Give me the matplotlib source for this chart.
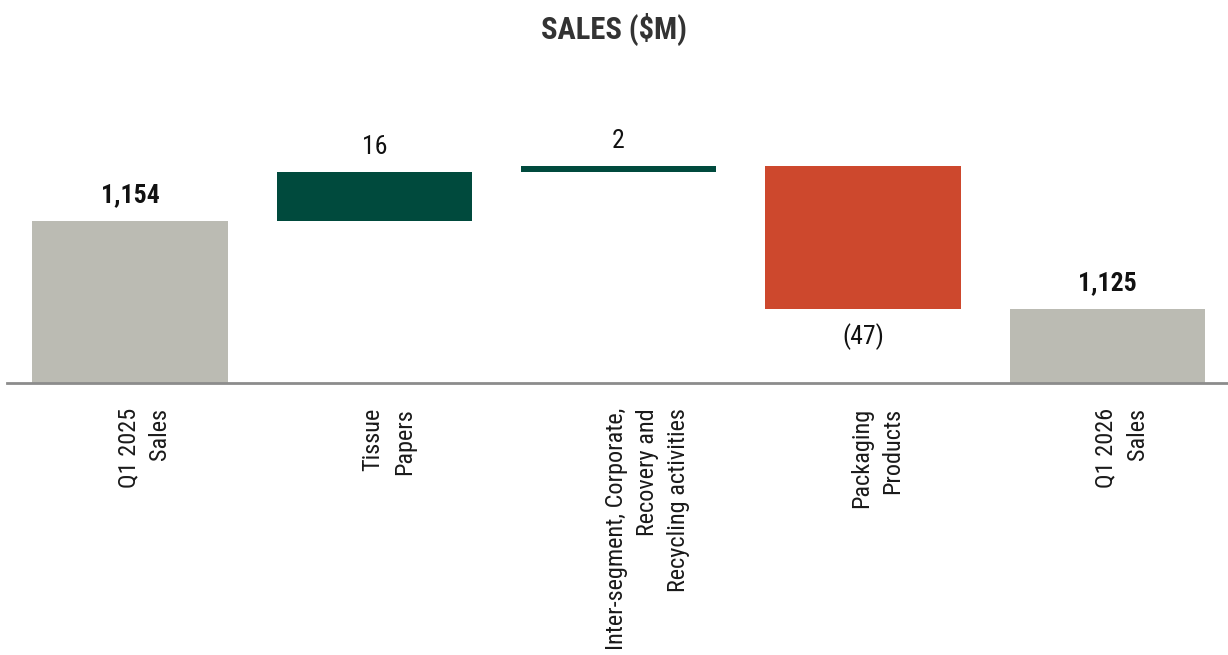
import matplotlib
matplotlib.use("Agg")
import matplotlib.pyplot as plt
from matplotlib import font_manager
from matplotlib.transforms import ScaledTranslation

# waterfall: start total, segment changes, end total
categories = ["Q1 2025\nSales", "Tissue\nPapers",
              "Inter-segment, Corporate,\nRecovery and\nRecycling activities",
              "Packaging\nProducts", "Q1 2026\nSales"]
start_total = 1154
changes = [16, 2, -47]
end_total = 1125
value_labels = ["1,154", "16", "2", "(47)", "1,125"]

# prefer a narrow face if one is installed
names = sorted({f.name for f in font_manager.fontManager.ttflist})
font = "Liberation Sans"
for want in ("Liberation Sans Narrow", "Roboto Condensed", "Open Sans Condensed",
             "Noto Sans Condensed", "DejaVu Sans Condensed"):
    if want in names:
        font = want
        break
else:
    narrow = [n for n in names if "Narrow" in n or "Condensed" in n]
    if narrow:
        font = narrow[0]
plt.rcParams["font.family"] = [font, "DejaVu Sans"]

GREY = "#bbbbb3"
GREEN = "#004a3d"
RED = "#cd482d"
BASE = 1100.5

fig = plt.figure(figsize=(12.28, 6.55), dpi=100)
ax = fig.add_axes([7 / 1228, (655 - 383) / 655, 1221 / 1228, 323 / 655])

bottoms = [BASE]
heights = [start_total - BASE]
colors = [GREY]
level = start_total
for c in changes:
    if c >= 0:
        bottoms.append(level)
        heights.append(c)
        colors.append(GREEN)
    else:
        bottoms.append(level + c)
        heights.append(-c)
        colors.append(RED)
    level += c
bottoms.append(BASE)
heights.append(end_total - BASE)
colors.append(GREY)

x = list(range(len(categories)))
ax.bar(x, heights, bottom=bottoms, width=0.8, color=colors)

# value labels
for i in x:
    top = bottoms[i] + heights[i]
    bold = i in (0, len(x) - 1)
    if 0 < i < len(x) - 1 and changes[i - 1] < 0:
        ax.annotate(value_labels[i], (i, bottoms[i]), xytext=(0, -20),
                    textcoords="offset points", ha="center", va="center",
                    fontsize=18.5, color="#111111")
    else:
        ax.annotate(value_labels[i], (i, top), xytext=(0, 18),
                    textcoords="offset points", ha="center", va="center",
                    fontsize=18.5, color="#111111",
                    fontweight="bold" if bold else "normal")

ax.set_xlim(-0.503, 4.494)
ax.set_ylim(BASE, BASE + 323 / 3.034)
ax.set_xticks(x)
ax.set_xticklabels(categories, rotation=90, ha="center", va="top",
                   multialignment="right", fontsize=17.5, color="#1a1a1a",
                   linespacing=1.45)
ax.tick_params(axis="x", length=0, pad=18)
# first line of each label sits on the bar centre
for lab, cat in zip(ax.get_xticklabels(), categories):
    n = cat.count("\n")
    lab.set_transform(lab.get_transform()
                      + ScaledTranslation(0.145 * n, 0, fig.dpi_scale_trans))
ax.set_yticks([])
for s in ("top", "right", "left"):
    ax.spines[s].set_visible(False)
ax.spines["bottom"].set_color("#8c8c8c")
ax.spines["bottom"].set_linewidth(2)

fig.text(0.5, 1 - 29 / 655, "SALES ($M)", ha="center", va="center",
         fontsize=22, fontweight="bold", color="#333333")

fig.savefig("out.png", dpi=100)
